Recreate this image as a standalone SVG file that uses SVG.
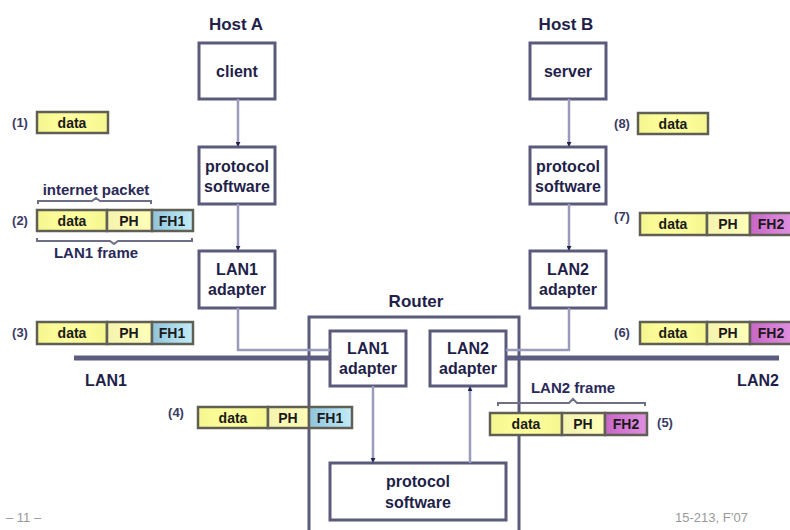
<svg xmlns="http://www.w3.org/2000/svg" width="790" height="530" viewBox="0 0 790 530">
  <style>
    text { font-family: "Liberation Sans", Arial, sans-serif; fill: #1f1f4a; }
    .lbl { font-size: 17px; font-weight: bold; text-anchor: middle; }
    .box { fill: #ffffff; stroke: #5a5a7c; stroke-width: 3; }
    .boxtxt { font-size: 16px; font-weight: bold; text-anchor: middle; }
    .link { fill: none; stroke: #9a9abc; stroke-width: 2.5; }
    .bus { fill: none; stroke: #5c5c80; stroke-width: 5; }
    .fld { stroke: #5f5f55; stroke-width: 2.5; }
    .data { fill: url(#gData); }
    .ph { fill: url(#gPH); }
    .fh1 { fill: url(#gFH1); }
    .fh2 { fill: url(#gFH2); }
    .ftxt { font-size: 14px; font-weight: bold; text-anchor: middle; fill: #1a1a1a; }
    .cap { font-size: 15px; font-weight: bold; text-anchor: middle; fill: #2a2a5a; }
    .num { font-size: 13px; font-weight: bold; text-anchor: middle; fill: #3a3a66; }
    .brace { fill: none; stroke: #6e6e88; stroke-width: 2; }
    .foot { font-size: 13px; fill: #999999; }
  </style>
  <defs>
    <linearGradient id="gData" x1="0" y1="0" x2="1" y2="0">
      <stop offset="0" stop-color="#f6f690"/>
      <stop offset="0.5" stop-color="#ffff9e"/>
      <stop offset="1" stop-color="#f6f690"/>
    </linearGradient>
    <linearGradient id="gPH" x1="0" y1="0" x2="1" y2="0">
      <stop offset="0" stop-color="#f4f4b0"/>
      <stop offset="1" stop-color="#ffffb8"/>
    </linearGradient>
    <linearGradient id="gFH1" x1="0" y1="0" x2="1" y2="0">
      <stop offset="0" stop-color="#8fc4dc"/>
      <stop offset="1" stop-color="#c4ecf6"/>
    </linearGradient>
    <linearGradient id="gFH2" x1="0" y1="0" x2="1" y2="0">
      <stop offset="0" stop-color="#c866c8"/>
      <stop offset="1" stop-color="#e090e0"/>
    </linearGradient>
    <marker id="arr" viewBox="0 0 6 6" refX="5" refY="3" markerWidth="2" markerHeight="2" orient="auto">
      <path d="M0,0 L6,3 L0,6 z" fill="#1f1f4a"/>
    </marker>
  </defs>

  <!-- Host A -->
  <text class="lbl" x="236" y="30">Host A</text>
  <g id="clientA">
    <rect class="box" x="199" y="43" width="76" height="56"/>
    <text class="boxtxt" x="237" y="77">client</text>
  </g>
  <g id="protoA">
    <rect class="box" x="199" y="147" width="76" height="57"/>
    <text class="boxtxt" x="237" y="172">protocol</text>
    <text class="boxtxt" x="237" y="192">software</text>
  </g>
  <g id="lan1adA">
    <rect class="box" x="199" y="251" width="76" height="57"/>
    <text class="boxtxt" x="237" y="275">LAN1</text>
    <text class="boxtxt" x="237" y="295">adapter</text>
  </g>

  <!-- Host B -->
  <text class="lbl" x="566" y="30">Host B</text>
  <g id="serverB">
    <rect class="box" x="530" y="43" width="76" height="56"/>
    <text class="boxtxt" x="568" y="77">server</text>
  </g>
  <g id="protoB">
    <rect class="box" x="530" y="147" width="76" height="57"/>
    <text class="boxtxt" x="568" y="172">protocol</text>
    <text class="boxtxt" x="568" y="192">software</text>
  </g>
  <g id="lan2adB">
    <rect class="box" x="530" y="251" width="76" height="57"/>
    <text class="boxtxt" x="568" y="275">LAN2</text>
    <text class="boxtxt" x="568" y="295">adapter</text>
  </g>

  <!-- Router -->
  <g id="router">
    <text class="lbl" x="416" y="307">Router</text>
    <rect class="box" x="309" y="317" width="210" height="222"/>
  </g>
  <g id="rLan1">
    <rect class="box" x="330" y="331" width="76" height="55"/>
    <text class="boxtxt" x="368" y="354">LAN1</text>
    <text class="boxtxt" x="368" y="374">adapter</text>
  </g>
  <g id="rLan2">
    <rect class="box" x="430" y="331" width="76" height="55"/>
    <text class="boxtxt" x="468" y="354">LAN2</text>
    <text class="boxtxt" x="468" y="374">adapter</text>
  </g>
  <g id="rProto">
    <rect class="box" x="330" y="463" width="176" height="57"/>
    <text class="boxtxt" x="418" y="487">protocol</text>
    <text class="boxtxt" x="418" y="508">software</text>
  </g>

  <!-- connectors and LAN buses -->
  <g id="connectors">
    <path class="link" d="M238,99 V146" marker-end="url(#arr)"/>
    <path class="link" d="M238,204 V250" marker-end="url(#arr)"/>
    <path class="link" d="M569,99 V146" marker-end="url(#arr)"/>
    <path class="link" d="M569,204 V250" marker-end="url(#arr)"/>
    <path class="link" d="M373,386 V462" marker-end="url(#arr)"/>
    <path class="link" d="M470,463 V387" marker-end="url(#arr)"/>
    <path class="link" d="M238,308 V350 H330"/>
    <path class="link" d="M569,308 V350 H506"/>
    <path class="bus" d="M74,358 H330"/>
    <path class="bus" d="M506,358 H779"/>
  </g>
  <text class="lbl" x="106" y="386" style="font-size:16px">LAN1</text>
  <text class="lbl" x="758" y="386" style="font-size:16px">LAN2</text>

  <!-- (1) -->
  <g id="pkt1">
    <text class="num" x="20" y="127">(1)</text>
    <rect class="fld data" x="37" y="112" width="71" height="21"/>
    <text class="ftxt" x="72" y="128">data</text>
  </g>

  <!-- (2) -->
  <g id="pkt2">
    <text class="cap" x="96" y="195">internet packet</text>
    <path class="brace" d="M38,204 V201 H92 L96,198 L100,201 H151 V204"/>
    <text class="num" x="20" y="225">(2)</text>
    <rect class="fld data" x="37" y="210" width="70" height="21"/>
    <rect class="fld ph" x="107" y="210" width="45" height="21"/>
    <rect class="fld fh1" x="152" y="210" width="41" height="21"/>
    <text class="ftxt" x="72" y="226">data</text>
    <text class="ftxt" x="129" y="226">PH</text>
    <text class="ftxt" x="172" y="226">FH1</text>
    <path class="brace" d="M37,238 V241 H110 L114,244 L118,241 H192 V238"/>
    <text class="cap" x="96" y="258">LAN1 frame</text>
  </g>

  <!-- (3) -->
  <g id="pkt3">
    <text class="num" x="20" y="337">(3)</text>
    <rect class="fld data" x="37" y="322" width="70" height="22"/>
    <rect class="fld ph" x="107" y="322" width="45" height="22"/>
    <rect class="fld fh1" x="152" y="322" width="41" height="22"/>
    <text class="ftxt" x="72" y="338">data</text>
    <text class="ftxt" x="129" y="338">PH</text>
    <text class="ftxt" x="172" y="338">FH1</text>
  </g>

  <!-- (4) -->
  <g id="pkt4">
    <text class="num" x="176" y="417">(4)</text>
    <rect class="fld data" x="198" y="407" width="70" height="21"/>
    <rect class="fld ph" x="268" y="407" width="41" height="21"/>
    <rect class="fld fh1" x="309" y="407" width="43" height="21"/>
    <text class="ftxt" x="233" y="423">data</text>
    <text class="ftxt" x="288" y="423">PH</text>
    <text class="ftxt" x="330" y="423">FH1</text>
  </g>

  <!-- (5) -->
  <g id="pkt5">
    <text class="cap" x="573" y="393">LAN2 frame</text>
    <path class="brace" d="M498,406 V403 H569 L573,399 L577,403 H645 V406"/>
    <rect class="fld data" x="490" y="413" width="72" height="22"/>
    <rect class="fld ph" x="562" y="413" width="43" height="22"/>
    <rect class="fld fh2" x="605" y="413" width="42" height="22"/>
    <text class="ftxt" x="526" y="429">data</text>
    <text class="ftxt" x="583" y="429">PH</text>
    <text class="ftxt" x="626" y="429">FH2</text>
    <text class="num" x="665" y="427">(5)</text>
  </g>

  <!-- (6) -->
  <g id="pkt6">
    <text class="num" x="622" y="337">(6)</text>
    <rect class="fld data" x="640" y="322" width="67" height="22"/>
    <rect class="fld ph" x="707" y="322" width="43" height="22"/>
    <rect class="fld fh2" x="750" y="322" width="42" height="22"/>
    <text class="ftxt" x="673" y="338">data</text>
    <text class="ftxt" x="728" y="338">PH</text>
    <text class="ftxt" x="771" y="338">FH2</text>
  </g>

  <!-- (7) -->
  <g id="pkt7">
    <text class="num" x="622" y="221">(7)</text>
    <rect class="fld data" x="640" y="213" width="67" height="22"/>
    <rect class="fld ph" x="707" y="213" width="43" height="22"/>
    <rect class="fld fh2" x="750" y="213" width="42" height="22"/>
    <text class="ftxt" x="673" y="229">data</text>
    <text class="ftxt" x="728" y="229">PH</text>
    <text class="ftxt" x="771" y="229">FH2</text>
  </g>

  <!-- (8) -->
  <g id="pkt8">
    <text class="num" x="622" y="128">(8)</text>
    <rect class="fld data" x="638" y="113" width="70" height="21"/>
    <text class="ftxt" x="673" y="129">data</text>
  </g>

  <text class="foot" x="6" y="522">– 11 –</text>
  <text class="foot" x="675" y="522">15-213, F’07</text>
</svg>
